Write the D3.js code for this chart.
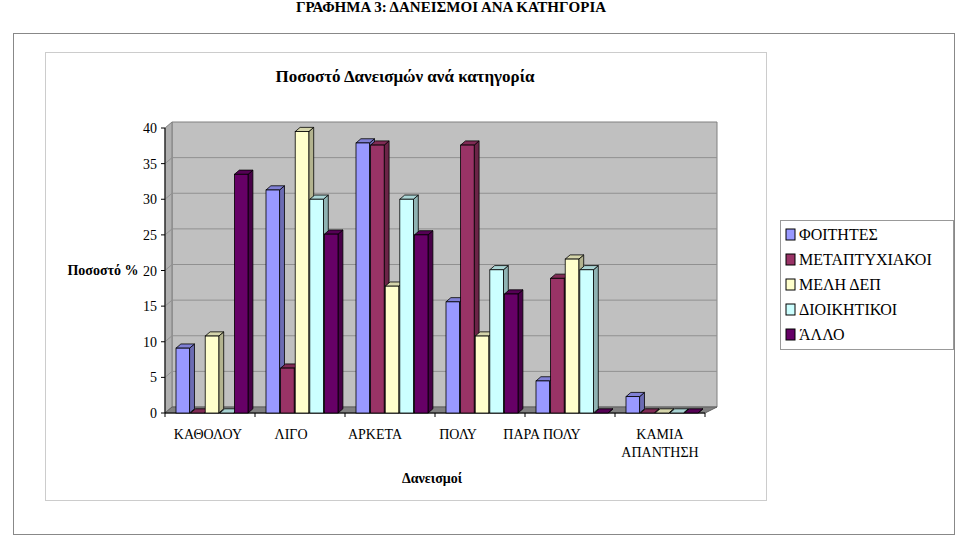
<!DOCTYPE html><html><head><meta charset="utf-8"><script src="https://cdn.jsdelivr.net/npm/d3@7"></script>
<style>body{margin:0;background:#fff}text{font-family:"Liberation Serif","Times New Roman","DejaVu Serif",serif}</style></head><body>
<svg id="c" width="959" height="538"></svg>
<script>
const categories=["ΚΑΘΟΛΟΥ","ΛΙΓΟ","ΑΡΚΕΤΑ","ΠΟΛΥ","ΠΑΡΑ ΠΟΛΥ","ΚΑΜΙΑ ΑΠΑΝΤΗΣΗ"];
const seriesNames=["ΦΟΙΤΗΤΕΣ","ΜΕΤΑΠΤΥΧΙΑΚΟΙ","ΜΕΛΗ ΔΕΠ","ΔΙΟΙΚΗΤΙΚΟΙ","ΆΛΛΟ"];
const foitites=[9.1,31.3,37.9,15.6,4.5,2.3];
const metaptyxiakoi=[0,6.3,37.6,37.6,18.9,0];
const melhDep=[10.8,39.5,17.8,10.8,21.6,0];
const dioikitikoi=[0,30,30,20.1,20.1,0];
const allo=[33.5,25.1,25,16.7,0,0];
const yTicks=[0,5,10,15,20,25,30,35,40];
const colors=["#9999ff","#993366","#ffffcc","#ccffff","#660066"];
const series=[foitites,metaptyxiakoi,melhDep,dioikitikoi,allo];
const svg=d3.select("#c");
svg.append("text").attr("x",451).attr("y",12).attr("text-anchor","middle").attr("font-size",15).attr("font-weight","bold").text("ΓΡΑΦΗΜΑ 3: ΔΑΝΕΙΣΜΟΙ ΑΝΑ ΚΑΤΗΓΟΡΙΑ");
svg.append("rect").attr("x",13.5).attr("y",33.5).attr("width",941).attr("height",501).attr("fill","none").attr("stroke","#888");
svg.append("rect").attr("x",45.5).attr("y",52.5).attr("width",721).attr("height",448).attr("fill","none").attr("stroke","#ccc");
svg.append("text").attr("x",405).attr("y",82).attr("text-anchor","middle").attr("font-size",17).attr("font-weight","bold").text("Ποσοστό Δανεισμών ανά κατηγορία");
const dx=7,dy=6;
const y=d3.scaleLinear().domain([0,40]).range([413,128]);
const x=d3.scaleBand().domain(categories).range([165,705]);
const x1=d3.scaleBand().domain(seriesNames).range([11,83]).paddingInner(0.07);
const L=165,R=705;
svg.append("polygon").attr("points",`${L+dx},${y(40)-dy} ${R+12},${y(40)-dy} ${R+12},${y(0)-dy} ${L+dx},${y(0)-dy}`).attr("fill","#c0c0c0").attr("stroke","#808080");
svg.append("polygon").attr("points",`${L},${y(40)} ${L+dx},${y(40)-dy} ${L+dx},${y(0)-dy} ${L},${y(0)}`).attr("fill","#b0b0b0").attr("stroke","#808080");
svg.append("polygon").attr("points",`${L},${y(0)} ${L+dx},${y(0)-dy} ${R+12},${y(0)-dy} ${R},${y(0)}`).attr("fill","#808080").attr("stroke","#606060");
yTicks.forEach(t=>{if(t>0&&t<40){svg.append("polyline").attr("points",`${L},${y(t)} ${L+dx},${y(t)-dy} ${R+12},${y(t)-dy}`).attr("fill","none").attr("stroke","#909090");}
 svg.append("line").attr("x1",L-4).attr("x2",L).attr("y1",y(t)).attr("y2",y(t)).attr("stroke","#000");
 svg.append("text").attr("x",L-8).attr("y",y(t)+5).attr("text-anchor","end").attr("font-size",14).text(t);});
svg.append("line").attr("x1",L).attr("x2",L).attr("y1",y(0)).attr("y2",y(40)).attr("stroke","#000");
svg.append("line").attr("x1",L).attr("x2",R).attr("y1",y(0)).attr("y2",y(0)).attr("stroke","#000");
categories.concat(["end"]).forEach((c,i)=>{const xx=i<6?x(c):R;svg.append("line").attr("x1",xx).attr("x2",xx).attr("y1",y(0)).attr("y2",y(0)+4).attr("stroke","#000");});
categories.forEach((c,ci)=>{seriesNames.forEach((s,si)=>{const v=series[si][ci];const x0=x(c)+x1(s),w=x1.bandwidth(),yt=y(v),yb=y(0);
 const col=d3.color(colors[si]);
 const g=svg.append("g").attr("stroke","#000").attr("stroke-width",0.8);
 g.append("polygon").attr("points",`${x0+w},${yt} ${x0+w+dx*0.7},${yt-dy*0.7} ${x0+w+dx*0.7},${yb-dy*0.7} ${x0+w},${yb}`).attr("fill",col.darker(1));
 g.append("polygon").attr("points",`${x0},${yt} ${x0+dx*0.7},${yt-dy*0.7} ${x0+w+dx*0.7},${yt-dy*0.7} ${x0+w},${yt}`).attr("fill",col.darker(0.5));
 g.append("rect").attr("x",x0).attr("y",yt).attr("width",w).attr("height",yb-yt).attr("fill",colors[si]);});});
const labX=[208,291,375,458,542,660];
categories.forEach((c,i)=>{const parts=c==="ΚΑΜΙΑ ΑΠΑΝΤΗΣΗ"?["ΚΑΜΙΑ","ΑΠΑΝΤΗΣΗ"]:[c];
 parts.forEach((p,j)=>svg.append("text").attr("x",labX[i]).attr("y",439+j*18).attr("text-anchor","middle").attr("font-size",14).text(p));});
svg.append("text").attr("x",432).attr("y",483).attr("text-anchor","middle").attr("font-size",14).attr("font-weight","bold").text("Δανεισμοί");
svg.append("text").attr("x",103).attr("y",275).attr("text-anchor","middle").attr("font-size",14).attr("font-weight","bold").text("Ποσοστό %");
const lg=svg.append("g");
lg.append("rect").attr("x",780.5).attr("y",220.5).attr("width",173).attr("height",129).attr("fill","#fff").attr("stroke","#999");
seriesNames.forEach((s,i)=>{lg.append("rect").attr("x",786).attr("y",229+i*25).attr("width",9).attr("height",11).attr("fill",colors[i]).attr("stroke","#000");
 lg.append("text").attr("x",799).attr("y",240+i*25).attr("font-size",16).text(s);});
</script></body></html>
